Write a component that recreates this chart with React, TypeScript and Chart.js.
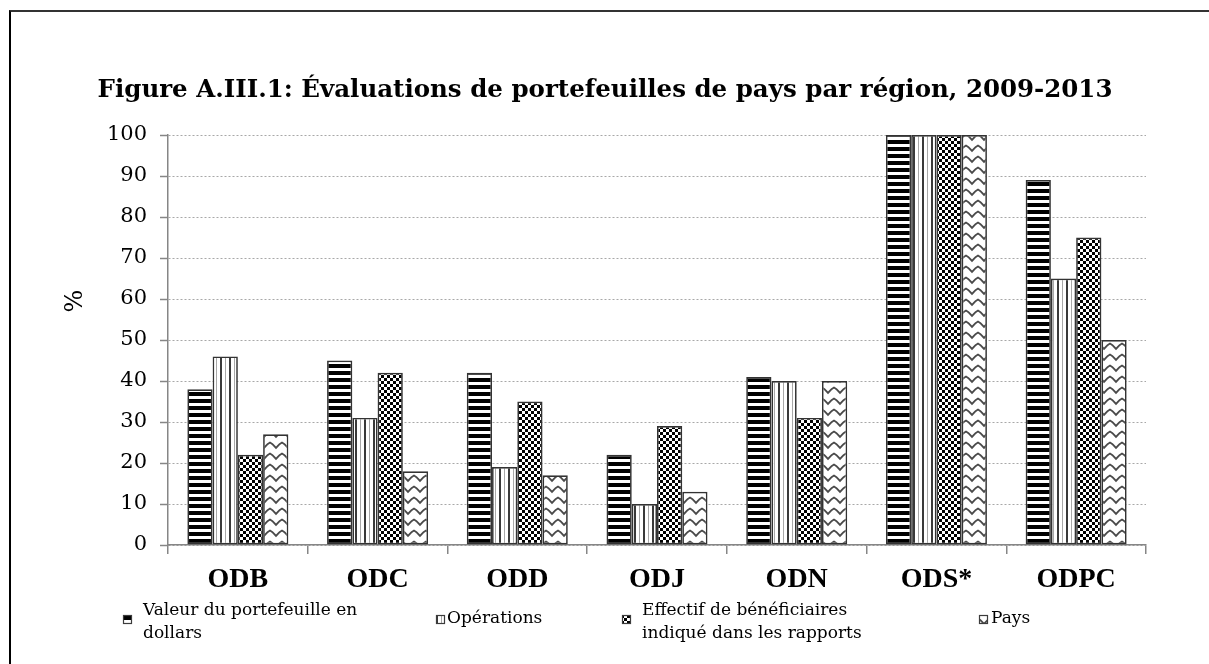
import React, { useEffect, useRef } from 'react';
import { Chart, registerables } from 'chart.js';

Chart.register(...registerables);

const categories = ['ODB', 'ODC', 'ODD', 'ODJ', 'ODN', 'ODS*', 'ODPC'];
const seriesNames = [
  'Valeur du portefeuille en dollars',
  'Opérations',
  'Effectif de bénéficiaires indiqué dans les rapports',
  'Pays',
];
const valeurValues = [38, 45, 42, 22, 41, 100, 89];
const operationsValues = [46, 31, 19, 10, 40, 100, 65];
const effectifValues = [22, 42, 35, 29, 31, 100, 75];
const paysValues = [27, 18, 17, 13, 40, 100, 50];
const yMin = 0;
const yMax = 100;
const yStep = 10;
const titleText = 'Figure A.III.1: Évaluations de portefeuilles de pays par région, 2009-2013';
const yAxisTitle = '%';

// layout constants (not data)
const W = 1209;
const H = 664;
const AREA_LEFT = 168;
const AREA_RIGHT = 1146;
const AREA_TOP = 135;
const AREA_BOTTOM = 545;
const legendBoxX = [123, 436, 622, 979];
const legendTextX = [143, 447, 642, 991];

function makePattern(kind: number): CanvasPattern | string {
  const c = document.createElement('canvas');
  if (kind === 0) {
    c.width = 7; c.height = 7;
    const g = c.getContext('2d')!;
    g.fillStyle = '#fff'; g.fillRect(0, 0, 7, 7);
    g.fillStyle = '#000'; g.fillRect(0, 0, 7, 4);
    return g.createPattern(c, 'repeat')!;
  }
  if (kind === 1) {
    c.width = 9; c.height = 4;
    const g = c.getContext('2d')!;
    g.fillStyle = '#fff'; g.fillRect(0, 0, 9, 4);
    g.fillStyle = '#3a3a3a'; g.fillRect(4, 0, 2, 4);
    g.fillStyle = '#a8a8a8'; g.fillRect(0, 0, 1, 4);
    return g.createPattern(c, 'repeat')!;
  }
  if (kind === 2) {
    c.width = 6; c.height = 6;
    const g = c.getContext('2d')!;
    g.fillStyle = '#fff'; g.fillRect(0, 0, 6, 6);
    g.fillStyle = '#000';
    g.fillRect(0, 0, 3, 3);
    g.fillRect(3, 3, 3, 3);
    return g.createPattern(c, 'repeat')!;
  }
  c.width = 12; c.height = 11;
  const g = c.getContext('2d')!;
  g.fillStyle = '#fff'; g.fillRect(0, 0, 12, 11);
  g.strokeStyle = '#4a4a4a';
  g.lineWidth = 1.8;
  g.beginPath();
  g.moveTo(-1, 9);
  g.quadraticCurveTo(3, 4, 6, 2.5);
  g.quadraticCurveTo(9, 4, 13, 9);
  g.stroke();
  return g.createPattern(c, 'repeat')!;
}

function wrapText(ctx: CanvasRenderingContext2D, text: string, maxWidth: number): string[] {
  const words = text.split(' ');
  const lines: string[] = [];
  let cur = '';
  for (const w of words) {
    const test = cur ? cur + ' ' + w : w;
    if (ctx.measureText(test).width > maxWidth && cur) {
      lines.push(cur);
      cur = w;
    } else {
      cur = test;
    }
  }
  if (cur) lines.push(cur);
  return lines;
}

const titlePlugin = {
  id: 'customTitle',
  afterDraw(chart: any) {
    const ctx: CanvasRenderingContext2D = chart.ctx;
    ctx.save();
    ctx.font = 'bold 24.5px "DejaVu Serif"';
    ctx.fillStyle = '#000';
    ctx.textAlign = 'center';
    ctx.textBaseline = 'alphabetic';
    ctx.fillText(titleText, 605, 97);
    // y-axis title
    ctx.translate(76, 301);
    ctx.rotate(-Math.PI / 2);
    ctx.font = '24px "DejaVu Serif"';
    ctx.textBaseline = 'middle';
    ctx.fillText(yAxisTitle, 0, 0);
    ctx.restore();
  },
};

const legendPlugin = {
  id: 'customLegend',
  afterDraw(chart: any) {
    const ctx: CanvasRenderingContext2D = chart.ctx;
    ctx.save();
    ctx.font = '17px "DejaVu Serif"';
    ctx.fillStyle = '#000';
    ctx.textAlign = 'left';
    ctx.textBaseline = 'middle';
    chart.data.datasets.forEach((ds: any, i: number) => {
      const lines = wrapText(ctx, ds.label, 236);
      const boxX = legendBoxX[i];
      const tx = legendTextX[i];
      const boxY = 615;
      ctx.fillStyle = ds.backgroundColor;
      ctx.fillRect(boxX, boxY, 9, 9);
      ctx.strokeStyle = '#3c3c3c';
      ctx.lineWidth = 1.2;
      ctx.strokeRect(boxX + 0.5, boxY + 0.5, 8, 8);
      ctx.fillStyle = '#000';
      if (lines.length === 1) {
        ctx.fillText(lines[0], tx, 619);
      } else {
        lines.forEach((ln, k) => ctx.fillText(ln, tx, 611 + k * 23));
      }
    });
    ctx.restore();
  },
};

export default function App() {
  const ref = useRef<HTMLCanvasElement>(null);
  useEffect(() => {
    const canvas = ref.current!;
    const seriesValues = [valeurValues, operationsValues, effectifValues, paysValues];
    const patterns = [0, 1, 2, 3].map(makePattern);
    const chart = new Chart(canvas, {
      type: 'bar',
      data: {
        labels: categories,
        datasets: seriesValues.map((vals, i) => ({
          label: seriesNames[i],
          data: vals,
          backgroundColor: patterns[i] as any,
          borderColor: '#333',
          borderWidth: 1.7,
          borderSkipped: false,
          categoryPercentage: 0.723,
          barPercentage: 1,
        })),
      },
      options: {
        responsive: false,
        animation: false,
        devicePixelRatio: 1,
        layout: { padding: { left: 0, right: W - AREA_RIGHT, top: AREA_TOP, bottom: 0 } },
        plugins: {
          legend: { display: false },
          title: { display: false },
          tooltip: { enabled: false },
        },
        scales: {
          x: {
            grid: {
              display: true,
              drawOnChartArea: false,
              drawTicks: true,
              tickLength: 9,
              color: '#868686',
              tickColor: '#868686',
              lineWidth: 1.5,
              offset: true,
            },
            border: { display: true, color: '#868686', width: 1.5 },
            ticks: {
              color: '#000',
              font: { family: '"Liberation Serif"', size: 28, weight: 'bold' },
              padding: 9,
              maxRotation: 0,
              autoSkip: false,
            },
            afterFit: (s: any) => { s.height = H - AREA_BOTTOM; },
          },
          y: {
            min: yMin,
            max: yMax,
            ticks: {
              stepSize: yStep,
              color: '#000',
              font: { family: '"DejaVu Serif"', size: 21 },
              padding: 13,
            },
            grid: {
              color: '#a8a8a8',
              lineWidth: 1,
              drawTicks: true,
              tickLength: 8,
              tickColor: '#868686',
              tickWidth: 1.5,
            },
            border: { display: true, color: '#868686', width: 1.5, dash: [2, 2] },
            title: { display: false },
            afterFit: (s: any) => { s.width = AREA_LEFT; },
          },
        },
      } as any,
      plugins: [titlePlugin, legendPlugin],
    });
    return () => chart.destroy();
  }, []);

  return (
    <div style={{ position: 'fixed', left: 0, top: 0, width: W, height: H, background: '#fff', overflow: 'hidden' }}>
      <div
        style={{
          position: 'absolute',
          left: 9,
          top: 10,
          width: 1400,
          height: 900,
          borderLeft: '2px solid #000',
          borderTop: '2px solid #333',
        }}
      />
      <canvas ref={ref} width={W} height={H} style={{ position: 'absolute', left: 0, top: 0 }} />
    </div>
  );
}
